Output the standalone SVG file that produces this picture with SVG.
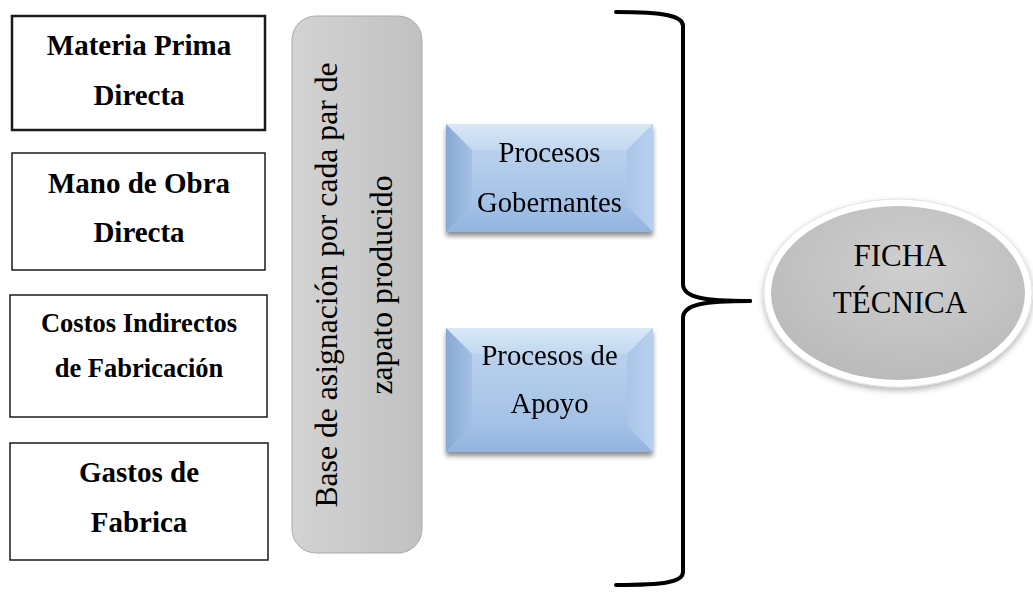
<svg xmlns="http://www.w3.org/2000/svg" width="1033" height="592" viewBox="0 0 1033 592">
  <style>
    .box { fill: #ffffff; stroke: #1a1a1a; stroke-width: 1.5; }
    .bold { font-family: "Liberation Serif", "Times New Roman", serif; font-weight: bold; fill: #000; text-anchor: middle; }
    .reg { font-family: "Liberation Serif", "Times New Roman", serif; fill: #000; text-anchor: middle; }
    .brace { fill: none; stroke: #000; stroke-width: 4; stroke-linecap: round; stroke-linejoin: round; }
  </style>
  <defs>
    <linearGradient id="grayBar" x1="0" y1="0" x2="1" y2="0">
      <stop offset="0" stop-color="#d3d3d3"/>
      <stop offset="1" stop-color="#c1c1c1"/>
    </linearGradient>
    <linearGradient id="blueFace" x1="0" y1="0" x2="0" y2="1">
      <stop offset="0" stop-color="#bcd3ee"/>
      <stop offset="1" stop-color="#a0bfe5"/>
    </linearGradient>
    <linearGradient id="bevTop" x1="0" y1="0" x2="0" y2="1">
      <stop offset="0" stop-color="#d8e8f8"/>
      <stop offset="1" stop-color="#c2d8f0"/>
    </linearGradient>
    <linearGradient id="bevLeft" x1="0" y1="0" x2="1" y2="0">
      <stop offset="0" stop-color="#87a8d3"/>
      <stop offset="1" stop-color="#a4c1e5"/>
    </linearGradient>
    <linearGradient id="bevRight" x1="0" y1="0" x2="1" y2="0">
      <stop offset="0" stop-color="#a9c5e8"/>
      <stop offset="1" stop-color="#b8d0ee"/>
    </linearGradient>
    <linearGradient id="bevBottom" x1="0" y1="0" x2="0" y2="1">
      <stop offset="0" stop-color="#a2c0e6"/>
      <stop offset="1" stop-color="#93b4de"/>
    </linearGradient>
    <radialGradient id="ovalFill" cx="0.55" cy="0.35" r="0.7">
      <stop offset="0" stop-color="#cfcfcf"/>
      <stop offset="1" stop-color="#b9b9b9"/>
    </radialGradient>
    <filter id="shadow" x="-10%" y="-10%" width="120%" height="130%">
      <feGaussianBlur in="SourceAlpha" stdDeviation="2.5"/>
      <feOffset dx="0" dy="4" result="b"/>
      <feComponentTransfer><feFuncA type="linear" slope="0.45"/></feComponentTransfer>
      <feMerge><feMergeNode/><feMergeNode in="SourceGraphic"/></feMerge>
    </filter>
    <filter id="softShadow" x="-10%" y="-10%" width="120%" height="130%">
      <feGaussianBlur in="SourceAlpha" stdDeviation="3"/>
      <feOffset dx="0" dy="3" result="b"/>
      <feComponentTransfer><feFuncA type="linear" slope="0.3"/></feComponentTransfer>
      <feMerge><feMergeNode/><feMergeNode in="SourceGraphic"/></feMerge>
    </filter>
  </defs>

  <rect width="1033" height="592" fill="#ffffff"/>

  <!-- cost element boxes -->
  <g id="materia-prima">
    <rect class="box" x="12" y="16" width="253" height="114" style="stroke-width:2.5"/>
    <text class="bold" x="139" y="55" font-size="29">Materia Prima</text>
    <text class="bold" x="139" y="105" font-size="29">Directa</text>
  </g>
  <g id="mano-obra">
    <rect class="box" x="12" y="153" width="253" height="117"/>
    <text class="bold" x="139" y="193" font-size="29">Mano de Obra</text>
    <text class="bold" x="139" y="242" font-size="29">Directa</text>
  </g>
  <g id="costos-indirectos">
    <rect class="box" x="10" y="295" width="257" height="122"/>
    <text class="bold" x="139" y="332" font-size="26.5">Costos Indirectos</text>
    <text class="bold" x="139" y="377" font-size="26.5">de Fabricación</text>
  </g>
  <g id="gastos-fabrica">
    <rect class="box" x="10" y="443" width="258" height="117"/>
    <text class="bold" x="139" y="482" font-size="29">Gastos de</text>
    <text class="bold" x="139" y="532" font-size="29">Fabrica</text>
  </g>

  <!-- allocation base bar with vertical label -->
  <g id="base-asignacion">
    <rect x="292" y="16" width="130" height="537" rx="24" ry="24" fill="url(#grayBar)" stroke="#a9a9a9" stroke-width="1"/>
    <text class="reg" font-size="31.7" transform="translate(337,285) rotate(-90)" x="0" y="0">Base de asignación por cada par de</text>
    <text class="reg" font-size="31.7" transform="translate(392,285) rotate(-90)" x="0" y="0">zapato producido</text>
  </g>

  <!-- process boxes (bevelled) -->
  <g id="procesos-gobernantes" filter="url(#shadow)">
    <rect x="446" y="124" width="207" height="108" fill="url(#blueFace)"/>
    <polygon points="446,124 653,124 627,150 472,150" fill="url(#bevTop)"/>
    <polygon points="446,124 472,150 472,206 446,232" fill="url(#bevLeft)"/>
    <polygon points="653,124 653,232 627,206 627,150" fill="url(#bevRight)"/>
    <polygon points="446,232 472,206 627,206 653,232" fill="url(#bevBottom)"/>
    <rect x="472" y="150" width="155" height="56" fill="url(#blueFace)" opacity="0.6"/>
    <text class="reg" x="549.5" y="162" font-size="28.7">Procesos</text>
    <text class="reg" x="549.5" y="212" font-size="28.7">Gobernantes</text>
  </g>
  <g id="procesos-apoyo" filter="url(#shadow)">
    <rect x="446" y="328" width="207" height="124" fill="url(#blueFace)"/>
    <polygon points="446,328 653,328 627,354 472,354" fill="url(#bevTop)"/>
    <polygon points="446,328 472,354 472,426 446,452" fill="url(#bevLeft)"/>
    <polygon points="653,328 653,452 627,426 627,354" fill="url(#bevRight)"/>
    <polygon points="446,452 472,426 627,426 653,452" fill="url(#bevBottom)"/>
    <rect x="472" y="354" width="155" height="72" fill="url(#blueFace)" opacity="0.6"/>
    <text class="reg" x="549.5" y="365" font-size="28.7">Procesos de</text>
    <text class="reg" x="549.5" y="413" font-size="28.7">Apoyo</text>
  </g>

  <!-- result oval -->
  <g id="ficha-tecnica">
    <ellipse cx="898" cy="293" rx="134" ry="94" fill="#ffffff" stroke="#e2e2e2" stroke-width="1" filter="url(#softShadow)"/>
    <ellipse cx="898" cy="293" rx="127" ry="87" fill="url(#ovalFill)"/>
    <text class="reg" x="900" y="266" font-size="31">FICHA</text>
    <text class="reg" x="900" y="313" font-size="31">TÉCNICA</text>
  </g>

  <!-- grouping brace -->
  <g id="connectors">
    <path class="brace" d="M 616,12 C 665,12 683,16 683,26 L 683,284 C 683,298 705,301 750,301"/>
    <path class="brace" d="M 750,301 C 705,301 683,304 683,318 L 683,572 C 683,582 665,585 616,585"/>
  </g>
</svg>
